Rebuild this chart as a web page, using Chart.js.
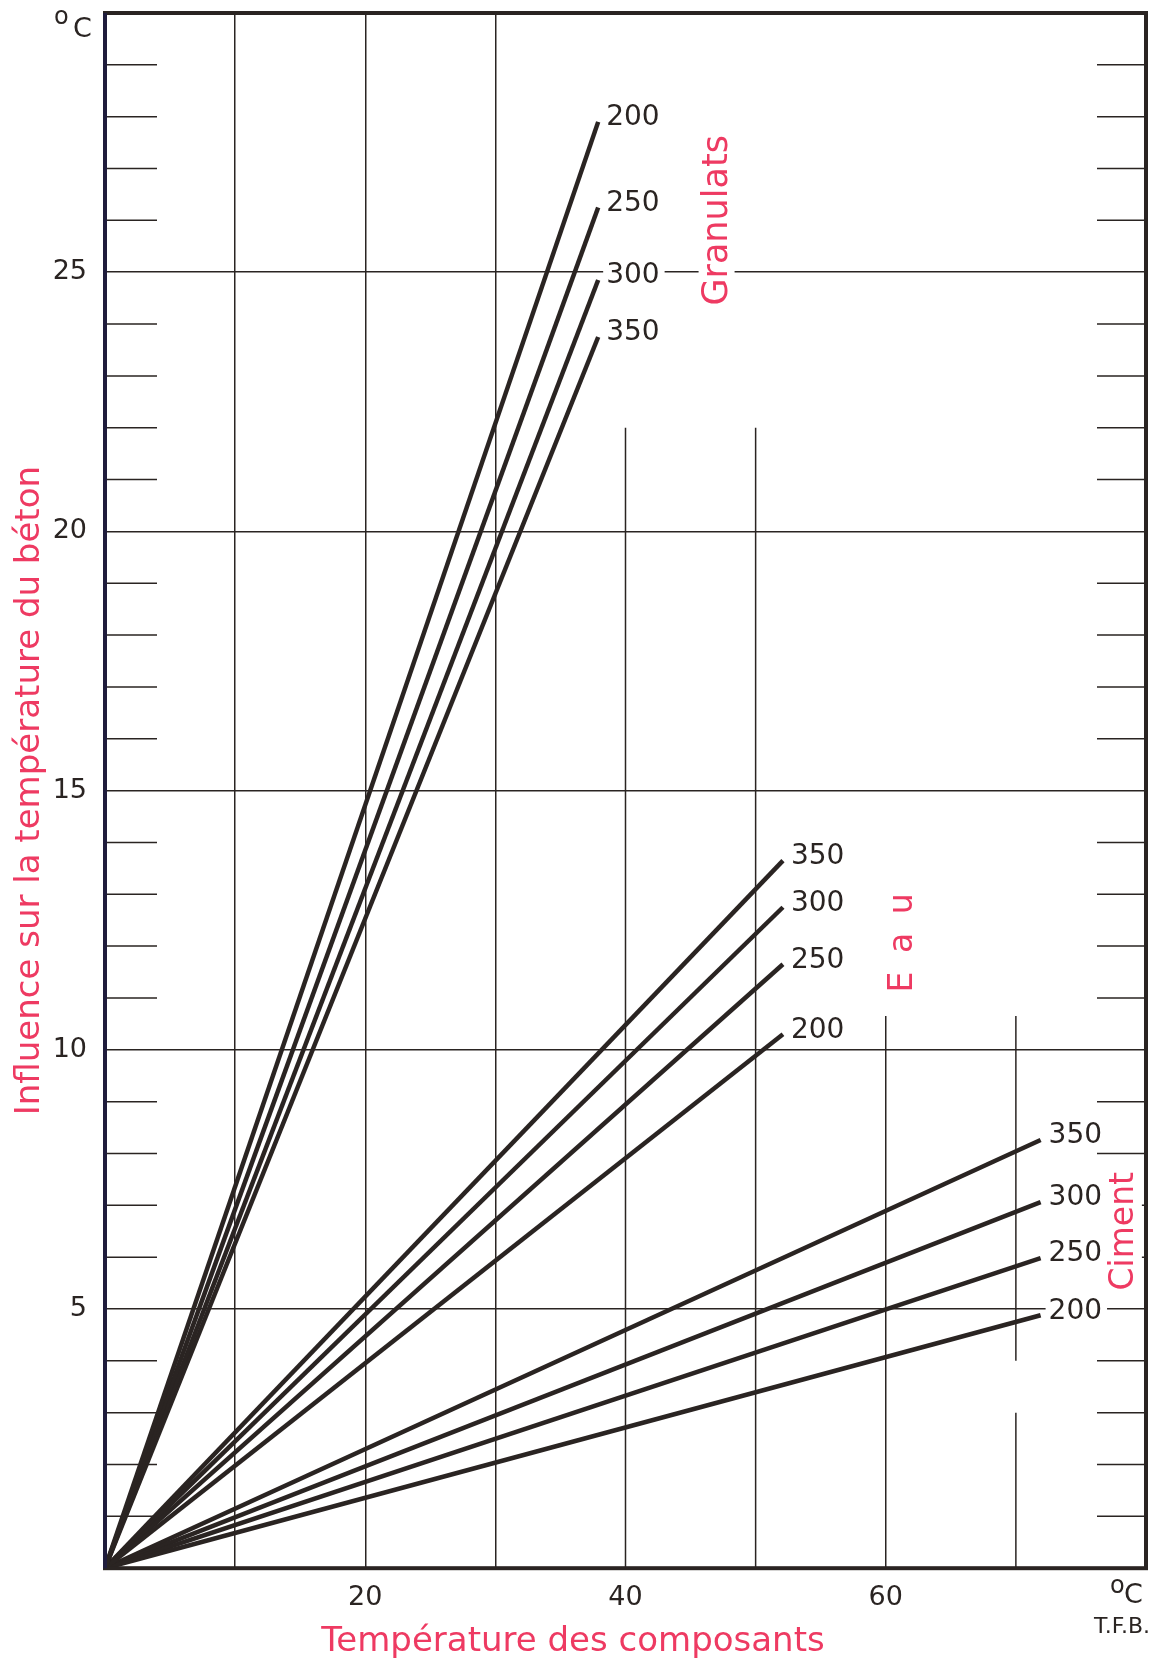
<!DOCTYPE html>
<html>
<head>
<meta charset="utf-8">
<script src="https://cdn.jsdelivr.net/npm/chart.js@4/dist/chart.umd.min.js"></script>
<style>
  html, body { margin: 0; padding: 0; background: #fff; }
  #wrap { width: 1152px; height: 1668px; }
</style>
</head>
<body>
<div id="wrap"><canvas id="chart"></canvas></div>
<script>
// values
const dosages = [200, 250, 300, 350];
const granulatsEnd = 37.9;
const granulatsVals = [27.9, 26.25, 24.85, 23.75];
const eauEnd = 52.1;
const eauVals = [10.3, 11.65, 12.75, 13.65];
const cimentEnd = 71.9;
const cimentVals = [4.88, 5.98, 7.06, 8.26];

const xTickLabels = [20, 40, 60];
const yTickLabels = [5, 10, 15, 20, 25];

// vertical grid lines that do not run the full height
const partialGrid = [
  { x: 40, from: 0, to: 22 },
  { x: 50, from: 0, to: 22 },
  { x: 60, from: 0, to: 10.65 },
  { x: 70, from: 0, to: 3 },
  { x: 70, from: 4, to: 10.65 },
];

const groupLabels = [
  { text: "Granulats", x: 47.0, y: 26.0 },
  { text: "E a u", x: 61.3, y: 12.1 },
  { text: "Ciment", x: 78.3, y: 6.5 },
];

const INK = "#2a2422";
const RED = "#ee3a62";
const FONT = "'DejaVu Sans', sans-serif";

function makeSets(endX, vals) {
  return vals.map((v, i) => ({
    label: String(dosages[i]),
    data: [{ x: 0, y: 0 }, { x: endX, y: v }],
  }));
}

const datasets = [
  ...makeSets(granulatsEnd, granulatsVals),
  ...makeSets(eauEnd, eauVals),
  ...makeSets(cimentEnd, cimentVals),
].map((d) => ({
  ...d,
  showLine: true,
  borderColor: INK,
  borderWidth: 4.5,
  pointRadius: 0,
  borderCapStyle: "butt",
}));

const extras = {
  id: "extras",
  beforeDatasetsDraw(chart) {
    const { ctx, chartArea: a, scales: { x, y } } = chart;
    ctx.save();
    ctx.strokeStyle = INK;
    ctx.lineWidth = 1.5;
    partialGrid.forEach((g) => {
      const px = x.getPixelForValue(g.x);
      ctx.beginPath();
      ctx.moveTo(px, y.getPixelForValue(g.from));
      ctx.lineTo(px, y.getPixelForValue(g.to));
      ctx.stroke();
    });
    // small ticks on both sides, every degree
    for (let v = 1; v < 30; v++) {
      if (v % 5 === 0) continue;
      const py = y.getPixelForValue(v);
      ctx.beginPath();
      ctx.moveTo(a.left, py);
      ctx.lineTo(a.left + 52, py);
      ctx.moveTo(a.right - 49, py);
      ctx.lineTo(a.right, py);
      ctx.stroke();
    }
    ctx.restore();
  },
  afterDatasetsDraw(chart) {
    const { ctx, chartArea: a, scales: { x, y } } = chart;
    ctx.save();
    // end labels of each line
    ctx.font = "28px " + FONT;
    ctx.textBaseline = "middle";
    ctx.textAlign = "left";
    chart.data.datasets.forEach((d) => {
      const end = d.data[1];
      const px = x.getPixelForValue(end.x) + 8;
      const py = y.getPixelForValue(end.y) - 4;
      const w = ctx.measureText(d.label).width;
      ctx.fillStyle = "#fff";
      ctx.fillRect(px - 3, py - 14, w + 8, 28);
      ctx.fillStyle = INK;
      ctx.fillText(d.label, px, py);
    });
    // group names, rotated
    ctx.textAlign = "center";
    groupLabels.forEach((g) => {
      ctx.save();
      ctx.translate(x.getPixelForValue(g.x), y.getPixelForValue(g.y));
      ctx.rotate(-Math.PI / 2);
      ctx.font = (g.text === "Granulats" ? "35px " : "33px ") + FONT;
      ctx.letterSpacing = g.text === "E a u" ? "4px" : "0px";
      const w = ctx.measureText(g.text).width;
      ctx.fillStyle = "#fff";
      ctx.fillRect(-w / 2 - 4, -18, w + 8, 36);
      ctx.fillStyle = RED;
      ctx.fillText(g.text, 0, 1);
      ctx.restore();
    });
    // frame
    ctx.strokeStyle = INK;
    ctx.lineWidth = 4;
    ctx.strokeRect(a.left, a.top, a.right - a.left, a.bottom - a.top);
    ctx.strokeStyle = "#1f1c3c";
    ctx.beginPath();
    ctx.moveTo(a.left, a.top);
    ctx.lineTo(a.left, a.bottom);
    ctx.stroke();
    // units
    ctx.fillStyle = INK;
    ctx.textAlign = "left";
    ctx.textBaseline = "alphabetic";
    ctx.font = "24px " + FONT;
    ctx.fillText("o", a.left - 51, a.top + 11);
    ctx.font = "27px " + FONT;
    ctx.fillText("C", a.left - 32, a.top + 24);
    ctx.font = "24px " + FONT;
    ctx.fillText("o", a.right - 36, a.bottom + 25);
    ctx.font = "27px " + FONT;
    ctx.fillText("C", a.right - 22, a.bottom + 35);
    ctx.textAlign = "right";
    ctx.font = "22px " + FONT;
    ctx.fillText("T.F.B.", a.right + 4, a.bottom + 65);
    ctx.restore();
  },
};

new Chart(document.getElementById("chart"), {
  type: "scatter",
  data: { datasets },
  options: {
    responsive: true,
    maintainAspectRatio: false,
    animation: false,
    layout: { padding: { top: 13, right: 6, left: 0, bottom: 0 } },
    plugins: {
      legend: { display: false },
      tooltip: { enabled: false },
      title: {
        display: true,
        text: "Température des composants",
        position: "bottom",
        color: RED,
        font: { family: FONT, size: 34, weight: "normal" },
        padding: { top: 0, bottom: 5 },
      },
    },
    scales: {
      x: {
        type: "linear",
        min: 0,
        max: 80,
        afterFit: (s) => {
          s.height = 54;
          s.paddingLeft = 0;
          s.paddingRight = 0;
        },
        border: { display: false },
        grid: {
          drawTicks: false,
          lineWidth: 1.5,
          color: (c) => ([10, 20, 30].includes(c.tick.value) ? INK : "rgba(0,0,0,0)"),
        },
        ticks: {
          stepSize: 10,
          padding: 14,
          color: INK,
          font: { family: FONT, size: 27 },
          maxRotation: 0,
          autoSkip: false,
          callback: (v) => (xTickLabels.includes(v) ? v : ""),
        },
      },
      y: {
        type: "linear",
        min: 0,
        max: 30,
        afterFit: (s) => {
          s.width = 105;
          s.paddingTop = 0;
          s.paddingBottom = 0;
        },
        border: { display: false },
        grid: {
          drawTicks: false,
          lineWidth: 1.5,
          color: (c) => (yTickLabels.includes(c.tick.value) ? INK : "rgba(0,0,0,0)"),
        },
        ticks: {
          stepSize: 5,
          padding: 18,
          color: INK,
          font: { family: FONT, size: 27 },
          autoSkip: false,
          callback: (v) => (yTickLabels.includes(v) ? v : ""),
        },
        title: {
          display: true,
          text: "Influence sur la température du béton",
          color: RED,
          font: { family: FONT, size: 34, weight: "normal" },
          padding: { top: 10, bottom: 0 },
        },
      },
    },
  },
  plugins: [extras],
});
</script>
</body>
</html>
